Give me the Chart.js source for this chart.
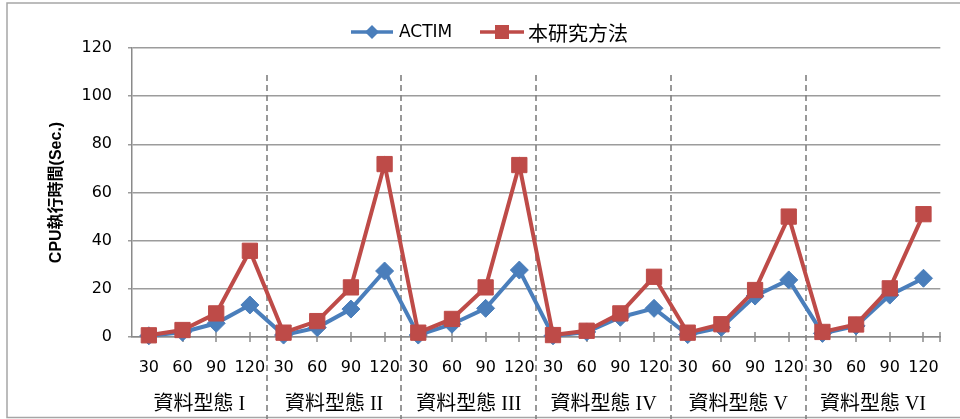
<!DOCTYPE html>
<html>
<head>
<meta charset="utf-8">
<script src="https://cdn.jsdelivr.net/npm/chart.js@4"></script>
<style>
  html, body { margin: 0; padding: 0; background: #ffffff; }
  #wrap { width: 960px; height: 419px; }
</style>
</head>
<body>
<div id="wrap"><canvas id="c" width="960" height="419"></canvas></div>
<script>
// Problem sizes tested inside each data type
const sizes = ['30', '60', '90', '120'];
// Data type groups along the category axis
const groups = ['資料型態 I', '資料型態 II', '資料型態 III', '資料型態 IV', '資料型態 V', '資料型態 VI'];
// CPU time (seconds) per group, four sizes each
const actim = [
  0.5, 2.0, 5.7, 13.3,
  0.8, 3.9, 11.6, 27.4,
  0.8, 5.3, 11.9, 27.8,
  0.5, 2.1, 8.2, 11.9,
  1.0, 4.0, 17.0, 23.7,
  1.5, 4.6, 17.4, 24.4
];
const proposed = [
  0.7, 2.9, 9.8, 35.8,
  1.8, 6.6, 20.6, 71.8,
  1.8, 7.5, 20.6, 71.4,
  0.8, 2.6, 9.8, 25.0,
  1.8, 5.3, 19.5, 50.0,
  2.1, 5.2, 20.2, 51.0
];
const seriesNames = ['ACTIM', '本研究方法'];
const yTicks = { min: 0, max: 120, step: 20 };

const labels = [];
groups.forEach(() => sizes.forEach(s => labels.push(s)));

const BLUE = '#4a7ebb';
const RED = '#be4b48';
const AXIS = '#8a8a8a';
const GRID = '#9c9c9c';
const NUM_FONT = '"DejaVu Sans", "Noto Sans CJK TC", sans-serif';

const decor = {
  id: 'decor',
  beforeDraw(chart) {
    const ctx = chart.ctx;
    ctx.save();
    ctx.fillStyle = '#ffffff';
    ctx.fillRect(0, 0, chart.width, chart.height);
    // outer frame
    ctx.strokeStyle = '#a6a6a6';
    ctx.lineWidth = 1.5;
    ctx.strokeRect(7, 3, chart.width + 10, 414.5);
    ctx.restore();
  },
  beforeDatasetsDraw(chart) {
    const ctx = chart.ctx;
    const x = chart.scales.x;
    const area = chart.chartArea;
    ctx.save();
    // dashed separators between data type groups
    ctx.strokeStyle = '#808080';
    ctx.lineWidth = 1.6;
    ctx.setLineDash([6, 4]);
    for (let g = 1; g < groups.length; g++) {
      const i = g * sizes.length;
      const px = Math.round((x.getPixelForValue(i - 1) + x.getPixelForValue(i)) / 2);
      ctx.beginPath();
      ctx.moveTo(px, area.top + 27);
      ctx.lineTo(px, chart.height);
      ctx.stroke();
    }
    ctx.setLineDash([]);
    // tick marks across the category axis
    ctx.strokeStyle = AXIS;
    ctx.lineWidth = 1.5;
    const marks = labels.map((_, i) => x.getPixelForValue(i));
    marks.push(area.right);
    marks.forEach(px => {
      ctx.beginPath();
      ctx.moveTo(Math.round(px), area.bottom - 5);
      ctx.lineTo(Math.round(px), area.bottom + 5);
      ctx.stroke();
    });
    ctx.restore();
  },
  afterDraw(chart) {
    const ctx = chart.ctx;
    const x = chart.scales.x;
    ctx.save();
    // group names under the size labels
    ctx.fillStyle = '#000000';
    ctx.font = '20px "Liberation Serif", "Noto Sans CJK TC", serif';
    ctx.textAlign = 'center';
    ctx.textBaseline = 'middle';
    groups.forEach((name, g) => {
      const a = x.getPixelForValue(g * sizes.length);
      const b = x.getPixelForValue(g * sizes.length + sizes.length - 1);
      ctx.fillText(name, (a + b) / 2, 405);
    });

    // legend: line with marker, then series name
    const ly = 32;
    const drawEntry = (x0, x1, color, shape, text, font, tx) => {
      ctx.strokeStyle = color;
      ctx.lineWidth = 3.5;
      ctx.beginPath();
      ctx.moveTo(x0, ly);
      ctx.lineTo(x1, ly);
      ctx.stroke();
      const cx = (x0 + x1) / 2;
      ctx.fillStyle = color;
      ctx.beginPath();
      if (shape === 'diamond') {
        ctx.moveTo(cx, ly - 7);
        ctx.lineTo(cx + 7, ly);
        ctx.lineTo(cx, ly + 7);
        ctx.lineTo(cx - 7, ly);
        ctx.closePath();
      } else {
        ctx.rect(cx - 7, ly - 7, 14, 14);
      }
      ctx.fill();
      ctx.fillStyle = '#000000';
      ctx.font = font;
      ctx.textAlign = 'left';
      ctx.textBaseline = 'middle';
      ctx.fillText(text, tx, ly + 1);
    };
    drawEntry(351, 393, BLUE, 'diamond', seriesNames[0], '17px ' + NUM_FONT, 399);
    drawEntry(480, 524, RED, 'square', seriesNames[1], '20px "Noto Sans CJK TC", sans-serif', 528);
    ctx.restore();
  }
};

new Chart(document.getElementById('c'), {
  type: 'line',
  data: {
    labels: labels,
    datasets: [
      {
        label: seriesNames[0],
        data: actim,
        borderColor: BLUE,
        backgroundColor: BLUE,
        borderWidth: 4,
        pointStyle: 'rectRot',
        pointRadius: 9,
        pointBorderWidth: 1,
        pointBackgroundColor: BLUE,
        pointBorderColor: BLUE,
        tension: 0,
        clip: false,
        order: 1
      },
      {
        label: seriesNames[1],
        data: proposed,
        borderColor: RED,
        backgroundColor: RED,
        borderWidth: 4,
        pointStyle: 'rect',
        pointRadius: 10.8,
        pointBorderWidth: 1,
        pointBackgroundColor: RED,
        pointBorderColor: RED,
        tension: 0,
        clip: false,
        order: 0
      }
    ]
  },
  options: {
    responsive: false,
    animation: false,
    devicePixelRatio: 1,
    layout: { padding: { left: 0, right: 12, top: 48, bottom: 0 } },
    plugins: {
      legend: { display: false },
      tooltip: { enabled: false },
      title: { display: false }
    },
    scales: {
      x: {
        type: 'category',
        offset: true,
        grid: { display: true, drawOnChartArea: false, drawTicks: false },
        border: { display: true, color: AXIS, width: 1.5 },
        ticks: {
          color: '#000000',
          font: { family: NUM_FONT, size: 16 },
          padding: 21,
          maxRotation: 0,
          autoSkip: false
        },
        afterFit(scale) { scale.height = 82; }
      },
      y: {
        min: yTicks.min,
        max: yTicks.max,
        grid: { color: GRID, lineWidth: 1.5, tickLength: 4, drawTicks: true },
        border: { display: true, color: AXIS, width: 1.5 },
        ticks: {
          stepSize: yTicks.step,
          color: '#000000',
          font: { family: NUM_FONT, size: 16 },
          padding: 16
        },
        title: {
          display: true,
          text: 'CPU執行時間(Sec.)',
          color: '#000000',
          font: { family: '"Liberation Sans", "Noto Sans CJK TC", sans-serif', size: 16, weight: 'bold' },
          padding: { top: 47, bottom: 0 }
        },
        afterFit(scale) { scale.width = 132; }
      }
    }
  },
  plugins: [decor]
});
</script>
</body>
</html>
